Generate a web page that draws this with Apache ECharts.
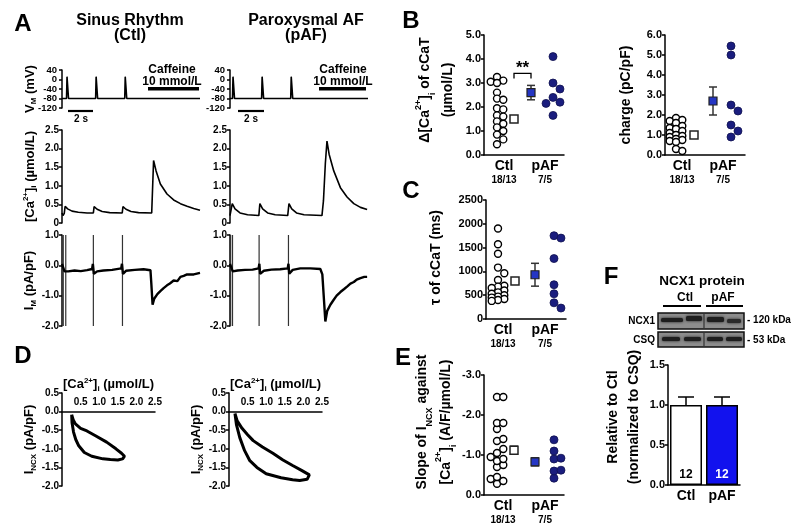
<!DOCTYPE html>
<html><head><meta charset="utf-8">
<script src="https://cdn.jsdelivr.net/npm/echarts@6/dist/echarts.min.js"></script>
<style>html,body{margin:0;padding:0;background:#fff}#c{width:800px;height:525px}</style>
</head><body><div id="c"></div>
<script>
const FONT = '"Liberation Sans", Arial, Helvetica, sans-serif';

// ---------------- Panel A : traces [time (s), value] ----------------
const vmTicks = [-120, -80, -40, 0, 40];
const vmCtl = [[0,-80],[0.36,-80],[0.4,12],[0.52,-80],[2.68,-80],[2.72,12],[2.84,-80],[5.0,-80],[5.04,12],[5.16,-80],[11,-80]];
const vmPaf = [[0,-80],[0.2,-80],[0.24,12],[0.36,-80],[2.52,-80],[2.56,12],[2.68,-80],[4.84,-80],[4.88,12],[5.0,-80],[11,-80]];
const caCtl = [[0,0.27],[0.08,0.2],[0.18,0.26],[0.25,0.45],[0.45,0.38],[0.8,0.32],[1.3,0.29],[2.0,0.27],[2.5,0.27],[2.56,0.44],[2.8,0.37],[3.2,0.31],[3.8,0.28],[4.8,0.27],[4.86,0.44],[5.1,0.37],[5.5,0.31],[6.1,0.28],[7.15,0.27],[7.3,1.68],[7.5,1.4],[7.84,1.05],[8.37,0.78],[8.9,0.62],[9.44,0.52],[9.97,0.45],[10.5,0.39],[11.0,0.34]];
const caPaf = [[0,0.2],[0.12,0.2],[0.18,0.52],[0.4,0.38],[0.8,0.27],[1.4,0.22],[2.3,0.2],[2.38,0.52],[2.6,0.38],[3.0,0.27],[3.6,0.22],[4.6,0.2],[4.7,0.52],[4.92,0.38],[5.3,0.27],[5.9,0.22],[7.33,0.2],[7.45,0.6],[7.6,1.6],[7.73,2.2],[7.9,1.85],[8.27,1.4],[8.8,0.95],[9.33,0.7],[9.87,0.52],[10.4,0.42],[10.93,0.36]];
const imCtl = [[0,0.05],[0.12,0.1],[0.2,-0.2],[0.5,-0.2],[1.0,-0.17],[1.5,-0.19],[2.0,-0.16],[2.4,-0.12],[2.46,0.05],[2.54,-0.28],[2.8,-0.2],[3.3,-0.17],[4.0,-0.15],[4.72,-0.1],[4.78,0.05],[4.86,-0.28],[5.1,-0.18],[5.8,-0.15],[6.5,-0.13],[7.05,-0.16],[7.12,-0.6],[7.22,-1.3],[7.35,-1.1],[7.6,-0.95],[7.84,-0.85],[8.1,-0.75],[8.37,-0.66],[8.6,-0.6],[8.9,-0.5],[9.2,-0.52],[9.44,-0.38],[9.7,-0.35],[9.97,-0.3],[10.5,-0.3],[11.0,-0.25]];
const imPaf = [[0,0.05],[0.1,0.1],[0.22,-0.2],[0.6,-0.17],[1.2,-0.15],[1.8,-0.14],[2.28,-0.1],[2.34,0.05],[2.4,-0.28],[2.7,-0.18],[3.3,-0.14],[4.0,-0.13],[4.6,-0.1],[4.66,0.05],[4.72,-0.28],[5.0,-0.15],[5.6,-0.1],[6.4,-0.1],[7.2,-0.12],[7.36,-0.3],[7.5,-1.2],[7.6,-1.85],[7.75,-1.5],[8.0,-1.3],[8.24,-1.15],[8.5,-1.0],[8.8,-0.88],[9.1,-0.78],[9.33,-0.7],[9.6,-0.6],[9.87,-0.55],[10.1,-0.47],[10.4,-0.42],[10.7,-0.38],[10.93,-0.38]];
const imSpikeCtl = [0.1, 0.3, 2.5, 4.82];
const imSpikePaf = [0.05, 0.2, 2.32, 4.66];

// ---------------- Panel B / C / E : scatter values ----------------
const groups = ['Ctl', 'pAF'];
const cellCounts = ['18/13', '7/5'];
const deltaCtl = [3.25,3.1,3.05,3.0,2.6,2.35,2.3,1.95,1.9,1.65,1.6,1.4,1.3,1.15,1.0,0.85,0.65,0.45];
const deltaPaf = [4.1,3.0,2.75,2.4,2.2,2.15,1.65];
const deltaMean = [1.5, 2.6];
const deltaSem = [0.12, 0.3];
const deltaSig = {level: 3.4, label: '**'};
const chargeCtl = [1.85,1.75,1.7,1.6,1.45,1.35,1.3,1.2,1.1,1.0,0.95,0.9,0.8,0.75,0.7,0.65,0.3,0.2];
const chargePaf = [5.45,5.0,2.5,2.2,1.5,1.2,0.9];
const chargeMean = [1.0, 2.7];
const chargeSem = [0.06, 0.7];
const tauCtl = [1900,1570,1370,1080,960,820,700,680,650,600,560,530,500,470,450,420,400,380];
const tauPaf = [1750,1700,1270,720,530,340,230];
const tauMean = [800, 930];
const tauSem = [60, 240];
const slopeCtl = [-2.45,-2.45,-1.8,-1.8,-1.65,-1.4,-1.35,-1.15,-1.05,-0.95,-0.9,-0.85,-0.75,-0.7,-0.45,-0.4,-0.35,-0.28];
const slopePaf = [-1.38,-1.1,-0.92,-0.9,-0.62,-0.6,-0.42];
const slopeMean = [-1.12, -0.83];
const slopeSem = [0.1, 0.1];

// ---------------- Panel D : loops [Ca (umol/L), INCX (pA/pF)] ----------------
const loopCtl = [[0.26,-0.08],[0.3,-0.22],[0.36,-0.33],[0.5,-0.45],[0.67,-0.52],[0.9,-0.65],[1.2,-0.82],[1.45,-1.0],[1.6,-1.12],[1.68,-1.2],[1.63,-1.27],[1.5,-1.3],[1.3,-1.29],[1.1,-1.27],[0.8,-1.2],[0.6,-1.1],[0.45,-0.92],[0.37,-0.75],[0.31,-0.55],[0.27,-0.3],[0.26,-0.08]];
const loopPaf = [[0.16,-0.05],[0.22,-0.25],[0.35,-0.45],[0.5,-0.62],[0.65,-0.78],[0.9,-0.95],[1.18,-1.12],[1.45,-1.3],[1.71,-1.45],[1.95,-1.58],[2.16,-1.7],[2.2,-1.75],[2.1,-1.82],[1.9,-1.85],[1.71,-1.83],[1.4,-1.78],[1.0,-1.67],[0.75,-1.5],[0.56,-1.32],[0.42,-1.05],[0.29,-0.7],[0.2,-0.35],[0.16,-0.05]];

// ---------------- Panel F : NCX1 protein ----------------
const protMean = [1.0, 1.0];
const protSem = [0.1, 0.1];
const protN = [12, 12];

// ---------------- helpers ----------------
function mkRich(size, L) {
  const s = Math.round(size*0.62);
  return {
    n:{fontFamily:FONT,fontWeight:'bold',fontSize:size,color:'#000',lineHeight:L},
    sup:{fontFamily:FONT,fontWeight:'bold',fontSize:s,color:'#000',lineHeight:L-7,verticalAlign:'top'},
    sub:{fontFamily:FONT,fontWeight:'bold',fontSize:s,color:'#000',lineHeight:L-7,verticalAlign:'bottom'},
    a:{fontFamily:FONT,fontWeight:'bold',fontSize:14,color:'#000',lineHeight:16},
    b:{fontFamily:FONT,fontWeight:'bold',fontSize:10,color:'#000',lineHeight:12}
  };
}
const RICH = mkRich(13, 16);
const RICH14 = mkRich(14, 17);
const LINE = {color:'#000', width:1.5};
function lab(size, fmt) {
  return {color:'#000', fontFamily:FONT, fontWeight:'bold', fontSize:size, margin:3, formatter:fmt,
    interval:0, hideOverlap:false, showMinLabel:true, showMaxLabel:true};
}
function yAx(gi, min, max, interval, fmt, name, gap, extra) {
  return Object.assign({
    type:'value', gridIndex:gi, min, max, interval,
    axisLine:{show:true, onZero:false, lineStyle:LINE},
    axisTick:{show:true, length:3, interval:0, lineStyle:LINE},
    axisLabel:lab(10, fmt),
    splitLine:{show:false},
    name, nameLocation:'middle', nameRotate:90, nameGap:gap,
    nameTextStyle:{rich:RICH}
  }, extra || {});
}
function xHidden(gi, min, max) {
  return {type:'value', gridIndex:gi, min, max, show:false};
}
function xCat(gi, pos) {
  return {type:'value', gridIndex:gi, min:0, max:4,
    axisLine:{show:true, onZero:false, lineStyle:LINE}, axisTick:{show:false}, splitLine:{show:false},
    axisLabel:{customValues:pos, margin:3, hideOverlap:false, formatter:(v)=>{
      const i = pos.findIndex(p=>Math.abs(p-v)<1e-6);
      return i<0 ? '' : '{a|'+groups[i]+'}\n{b|'+cellCounts[i]+'}';
    }, rich:RICH}};
}
function grid(left, top, width, height) {
  return {left, top, width, height, containLabel:false, outerBoundsMode:'none'};
}
// beeswarm layout (max three columns, like a scatter dot plot), returned in axis units
function swarm(values, center, yMin, yMax, hPx, xUnitPx, d) {
  const placed = [], out = [];
  const sorted = values.slice().sort((a,b)=>b-a);
  const step = d*0.85;
  const cand = [0, step, -step];
  for (const v of sorted) {
    const py = (v-yMin)/(yMax-yMin)*hPx;
    let best = 0, bestScore = -1;
    for (const c of cand) {
      const md = placed.length ? Math.min(...placed.map(p=>Math.hypot(p[0]-c,p[1]-py))) : Infinity;
      if (md >= d*0.8) { best = c; bestScore = Infinity; break; }
      if (md > bestScore) { bestScore = md; best = c; }
    }
    placed.push([best, py]);
    out.push([center + best/xUnitPx, v]);
  }
  return out;
}
function errBars(gi, data, color, capW, upperOnly) {
  return {type:'custom', xAxisIndex:gi, yAxisIndex:gi, z:3, data, silent:true,
    renderItem(params, api){
      const x=api.value(0), m=api.value(1), s=api.value(2);
      const top=api.coord([x,m+s]), bot=api.coord(upperOnly?[x,m]:[x,m-s]);
      const st={stroke:color, lineWidth:1.5};
      const ch=[{type:'line',shape:{x1:top[0],y1:top[1],x2:bot[0],y2:bot[1]},style:st},
                {type:'line',shape:{x1:top[0]-capW,y1:top[1],x2:top[0]+capW,y2:top[1]},style:st}];
      if(!upperOnly) ch.push({type:'line',shape:{x1:bot[0]-capW,y1:bot[1],x2:bot[0]+capW,y2:bot[1]},style:st});
      return {type:'group', children:ch};
    }};
}
function traceSeries(gi, data, w) {
  return {type:'line', xAxisIndex:gi, yAxisIndex:gi, data, showSymbol:false, symbol:'none',
    lineStyle:{color:'#000', width:w||1.6}, silent:true, animation:false};
}
function spikeSeries(gi, times) {
  return {type:'custom', xAxisIndex:gi, yAxisIndex:gi, silent:true, data:times.map(t=>[t]),
    renderItem(params, api){
      const cs = params.coordSys; const p = api.coord([api.value(0), 0]);
      return {type:'line', shape:{x1:p[0],y1:cs.y,x2:p[0],y2:cs.y+cs.height}, style:{stroke:'#333', lineWidth:1.2}};
    }};
}
// tick labels of the dense V_M axis, placed through the axis scale
function tickLabelSeries(gi, ticks) {
  return {type:'custom', xAxisIndex:gi, yAxisIndex:gi, silent:true, clip:false, data:ticks.map(v=>[0,v]),
    renderItem(params, api){
      const p = api.coord([0, api.value(1)]);
      return {type:'text', style:{text:String(api.value(1)), x:params.coordSys.x-5, y:p[1],
        align:'right', verticalAlign:'middle', font:'bold 9.5px '+FONT, fill:'#000'}};
    }};
}
const ctlDot = {symbol:'circle', symbolSize:7, itemStyle:{color:'#fff', borderColor:'#000', borderWidth:1.4, opacity:1}};
const pafDot = {symbol:'circle', symbolSize:8, itemStyle:{color:'#1a1d7e', borderColor:'#10124f', borderWidth:0.8, opacity:1}};
function scatterPanel(gi, ctl, paf, mean, sem, pos, yMin, yMax, hPx) {
  const ctlPts = swarm(ctl, pos.ctl, yMin, yMax, hPx, 20, 7.4);
  const pafPts = swarm(paf, pos.paf, yMin, yMax, hPx, 20, 8.2);
  return [
    Object.assign({type:'scatter', xAxisIndex:gi, yAxisIndex:gi, data:ctlPts, z:4, silent:true}, ctlDot),
    Object.assign({type:'scatter', xAxisIndex:gi, yAxisIndex:gi, data:pafPts, z:4, silent:true}, pafDot),
    errBars(gi, [[pos.ctlMean, mean[0], sem[0]], [pos.pafMean, mean[1], sem[1]]], '#333', 4, false),
    {type:'scatter', xAxisIndex:gi, yAxisIndex:gi, z:5, silent:true, symbol:'rect', symbolSize:8,
      data:[{value:[pos.ctlMean, mean[0]], itemStyle:{color:'#fff', borderColor:'#222', borderWidth:1.5, opacity:1}},
            {value:[pos.pafMean, mean[1]], itemStyle:{color:'#2536c4', borderColor:'#222', borderWidth:1.2, opacity:1}}]}
  ];
}

// layout (group positions along value axes 0..4)
const posB1 = {ctl:0.65, ctlMean:1.5, pafMean:2.35, paf:3.45, labels:[1.0, 3.05]};
const posB2 = {ctl:0.55, ctlMean:1.45, pafMean:2.4, paf:3.3, labels:[0.85, 2.9]};
const posC  = {ctl:0.6, ctlMean:1.45, pafMean:2.45, paf:3.4, labels:[0.85, 2.95]};
const posE  = {ctl:0.65, ctlMean:1.5, pafMean:2.55, paf:3.5, labels:[0.95, 3.05]};

const f1 = v => v.toFixed(1);
const grids = [
  grid(62,70,138,38), grid(230,70,138,38),
  grid(62,130,138,93), grid(230,130,138,93),
  grid(62,235,138,91), grid(230,235,138,91),
  grid(484,35,80,120), grid(665,35,80,120),
  grid(486,200,80,119),
  grid(62,393,93,93), grid(229,393,93,93),
  grid(484,375,80,120),
  grid(668,365,72,120)
];
const vmName = '{n|V}{sub|M}{n| (mV)}';
const caName = '{n|[Ca}{sup|2+}{n|]}{sub|i}{n| (µmol/L)}';
const imName = '{n|I}{sub|M}{n| (pA/pF)}';
const incxName = '{n|I}{sub|NCX}{n| (pA/pF)}';
const caX = '{n|[Ca}{sup|2+}{n|]}{sub|i}{n| (µmol/L)}';

function xLoop(gi) {
  return {type:'value', gridIndex:gi, min:0, max:2.5, interval:0.5, position:'top', offset:-18.6,
    axisLine:{show:true, onZero:false, lineStyle:LINE}, axisTick:{show:false}, splitLine:{show:false},
    axisLabel:Object.assign(lab(10, v=>v===0?'':v.toFixed(1)), {margin:4}),
    name:caX, nameLocation:'middle', nameGap:19, nameTextStyle:{rich:RICH}};
}
function vmAxis(gi, name) {
  return yAx(gi,-120,40,40,v=>String(v),name,24,{axisLabel:{show:false},
    axisTick:{show:true, length:3, customValues:vmTicks, lineStyle:LINE}});
}
const xAxes = [
  xHidden(0,0,11), xHidden(1,0,11), xHidden(2,0,11), xHidden(3,0,11), xHidden(4,0,11), xHidden(5,0,11),
  xCat(6,posB1.labels), xCat(7,posB2.labels), xCat(8,posC.labels),
  xLoop(9), xLoop(10),
  xCat(11,posE.labels),
  {type:'category', gridIndex:12, data:groups, axisLine:{show:true, lineStyle:LINE}, axisTick:{show:false},
    axisLabel:{color:'#000',fontFamily:FONT,fontWeight:'bold',fontSize:14,margin:4}}
];
const yAxes = [
  vmAxis(0, vmName),
  vmAxis(1, ''),
  yAx(2,0,2.5,0.5,v=>v===0?'0':v.toFixed(1),caName,24),
  yAx(3,0,2.5,0.5,v=>v===0?'0':v.toFixed(1),'',0),
  yAx(4,-2,1,1,f1,imName,24),
  yAx(5,-2,1,1,f1,'',0),
  yAx(6,0,5,1,f1,'{n|Δ[Ca}{sup|2+}{n|]}{sub|i}{n| of cCaT}\n{n|(µmol/L)}',24,
     {axisLabel:lab(11,f1), nameTextStyle:{rich:mkRich(14,23), padding:[0,0,0,10]}}),
  yAx(7,0,6,1,f1,'{n|charge (pC/pF)}',30,{axisLabel:lab(11,f1), nameTextStyle:{rich:RICH14}}),
  yAx(8,0,2500,500,v=>String(v),'{n|τ of cCaT (ms)}',41,{axisLabel:lab(11,v=>String(v)), nameTextStyle:{rich:RICH14, padding:[0,0,0,4]}}),
  yAx(9,-2,0.5,0.5,f1,incxName,24),
  yAx(10,-2,0.5,0.5,f1,incxName,21),
  yAx(11,-3,0,1,f1,'{n|Slope of I}{sub|NCX}{n| against}\n{n|[Ca}{sup|2+}{n|]}{sub|i}{n| (A/F/µmol/L)}',24,
     {inverse:true, axisLabel:lab(11,f1), nameTextStyle:{rich:mkRich(14,24), padding:[0,0,0,26]}}),
  yAx(12,0,1.5,0.5,f1,'{n|Relative to Ctl}\n{n|(normalized to CSQ)}',23,
     {axisLabel:lab(11,f1), nameTextStyle:{rich:mkRich(14,21), padding:[0,0,0,16]}})
];

const series = [
  traceSeries(0, vmCtl, 1.6), traceSeries(1, vmPaf, 1.6),
  tickLabelSeries(0, vmTicks), tickLabelSeries(1, vmTicks),
  traceSeries(2, caCtl, 1.6), traceSeries(3, caPaf, 1.6),
  spikeSeries(4, imSpikeCtl), spikeSeries(5, imSpikePaf),
  traceSeries(4, imCtl, 2.4), traceSeries(5, imPaf, 2.4),
  ...scatterPanel(6, deltaCtl, deltaPaf, deltaMean, deltaSem, posB1, 0, 5, 120),
  {type:'custom', xAxisIndex:6, yAxisIndex:6, silent:true, data:[[posB1.ctlMean, posB1.pafMean, deltaSig.level]], z:6,
    renderItem(params, api){
      const a=api.coord([api.value(0),api.value(2)]), b=api.coord([api.value(1),api.value(2)]);
      const st={stroke:'#000', lineWidth:1.3};
      return {type:'group', children:[
        {type:'polyline', shape:{points:[[a[0],a[1]+5],[a[0],a[1]],[b[0],b[1]],[b[0],b[1]+5]]}, style:Object.assign({fill:null},st)},
        {type:'text', style:{text:deltaSig.label, x:(a[0]+b[0])/2, y:a[1]+3, align:'center', verticalAlign:'bottom', font:'bold 17px '+FONT, fill:'#000'}}
      ]};
    }},
  ...scatterPanel(7, chargeCtl, chargePaf, chargeMean, chargeSem, posB2, 0, 6, 120),
  ...scatterPanel(8, tauCtl, tauPaf, tauMean, tauSem, posC, 0, 2500, 119),
  {type:'line', xAxisIndex:9, yAxisIndex:9, data:loopCtl, symbol:'none', lineStyle:{color:'#000', width:3}, silent:true},
  {type:'line', xAxisIndex:10, yAxisIndex:10, data:loopPaf, symbol:'none', lineStyle:{color:'#000', width:3}, silent:true},
  ...scatterPanel(11, slopeCtl, slopePaf, slopeMean, slopeSem, posE, -3, 0, 120),
  {type:'bar', xAxisIndex:12, yAxisIndex:12, barWidth:32, silent:true,
    data:protMean.map((v,i)=>({value:v, itemStyle:{color:i===0?'#fff':'#1212ee', borderColor:'#000', borderWidth:1.5},
      label:{show:true, position:'insideBottom', distance:4, formatter:String(protN[i]), color:i===0?'#000':'#fff', fontFamily:FONT, fontWeight:'bold', fontSize:12}}))},
  errBars(12, protMean.map((v,i)=>[i, v, protSem[i]]), '#000', 8, true)
];

// ---------------- graphic annotations ----------------
function txt(x, y, s, size, align) {
  return {type:'text', x, y, style:{text:s, font:'bold '+size+'px '+FONT, fill:'#000', align:align||'center', verticalAlign:'middle'}};
}
function ln(x1,y1,x2,y2,w,c) { return {type:'line', shape:{x1,y1,x2,y2}, style:{stroke:c||'#000', lineWidth:w}}; }
function rc(x,y,w,h,fill,stroke) { return {type:'rect', shape:{x,y,width:w,height:h}, style:{fill, stroke:stroke||null, lineWidth:stroke?1.5:0}}; }
function band(x,y,w,h,fill) { return {type:'rect', shape:{x,y,width:w,height:h,r:1.5}, style:{fill, shadowBlur:3, shadowColor:fill}}; }
const graphics = [
  txt(23,24,'A',24), txt(411,21,'B',24), txt(411,191,'C',24), txt(23,356,'D',24), txt(403,358,'E',24), txt(611,277,'F',24),
  txt(130,21,'Sinus Rhythm',16), txt(130,36,'(Ctl)',16),
  txt(306,21,'Paroxysmal AF',16), txt(306,36,'(pAF)',16),
  txt(172,70,'Caffeine',12), txt(172,82,'10 mmol/L',12),
  rc(148,87,51,3.5,'#000'),
  txt(343,70,'Caffeine',12), txt(343,82,'10 mmol/L',12),
  rc(319,87,47,3.5,'#000'),
  ln(68,111,93,111,2.2), txt(81,119,'2 s',10),
  ln(238,111,264,111,2.2), txt(251,119,'2 s',10),
  // western blot
  txt(702,281,'NCX1 protein',13.5),
  txt(685,298,'Ctl',12), txt(723,298,'pAF',12),
  ln(663,306,701,306,2), ln(706,306,743,306,2),
  rc(658,313,86,16,'#8d8d8d','#111'), ln(704,313,704,329,1.2,'#333'),
  band(661,318,22,4,'#1e1e1e'), band(686,316,16,5,'#1e1e1e'), band(707,317,17,5,'#1e1e1e'), band(727,319,14,4,'#2a2a2a'),
  rc(658,332,86,15,'#8d8d8d','#111'), ln(704,332,704,347,1.2,'#333'),
  band(662,337,18,4,'#1e1e1e'), band(684,337,17,4,'#1e1e1e'), band(707,337,16,4,'#1e1e1e'), band(726,337,16,4,'#1e1e1e'),
  txt(655,321,'NCX1',10,'right'), txt(655,340,'CSQ',10,'right'),
  txt(747,320,'- 120 kDa',10,'left'), txt(747,340,'- 53 kDa',10,'left')
];

const chart = echarts.init(document.getElementById('c'), null, {renderer:'canvas', width:800, height:525});
chart.setOption({
  backgroundColor:'#fff', animation:false,
  textStyle:{fontFamily:FONT},
  grid:grids, xAxis:xAxes, yAxis:yAxes, series, graphic:graphics
});
</script></body></html>
